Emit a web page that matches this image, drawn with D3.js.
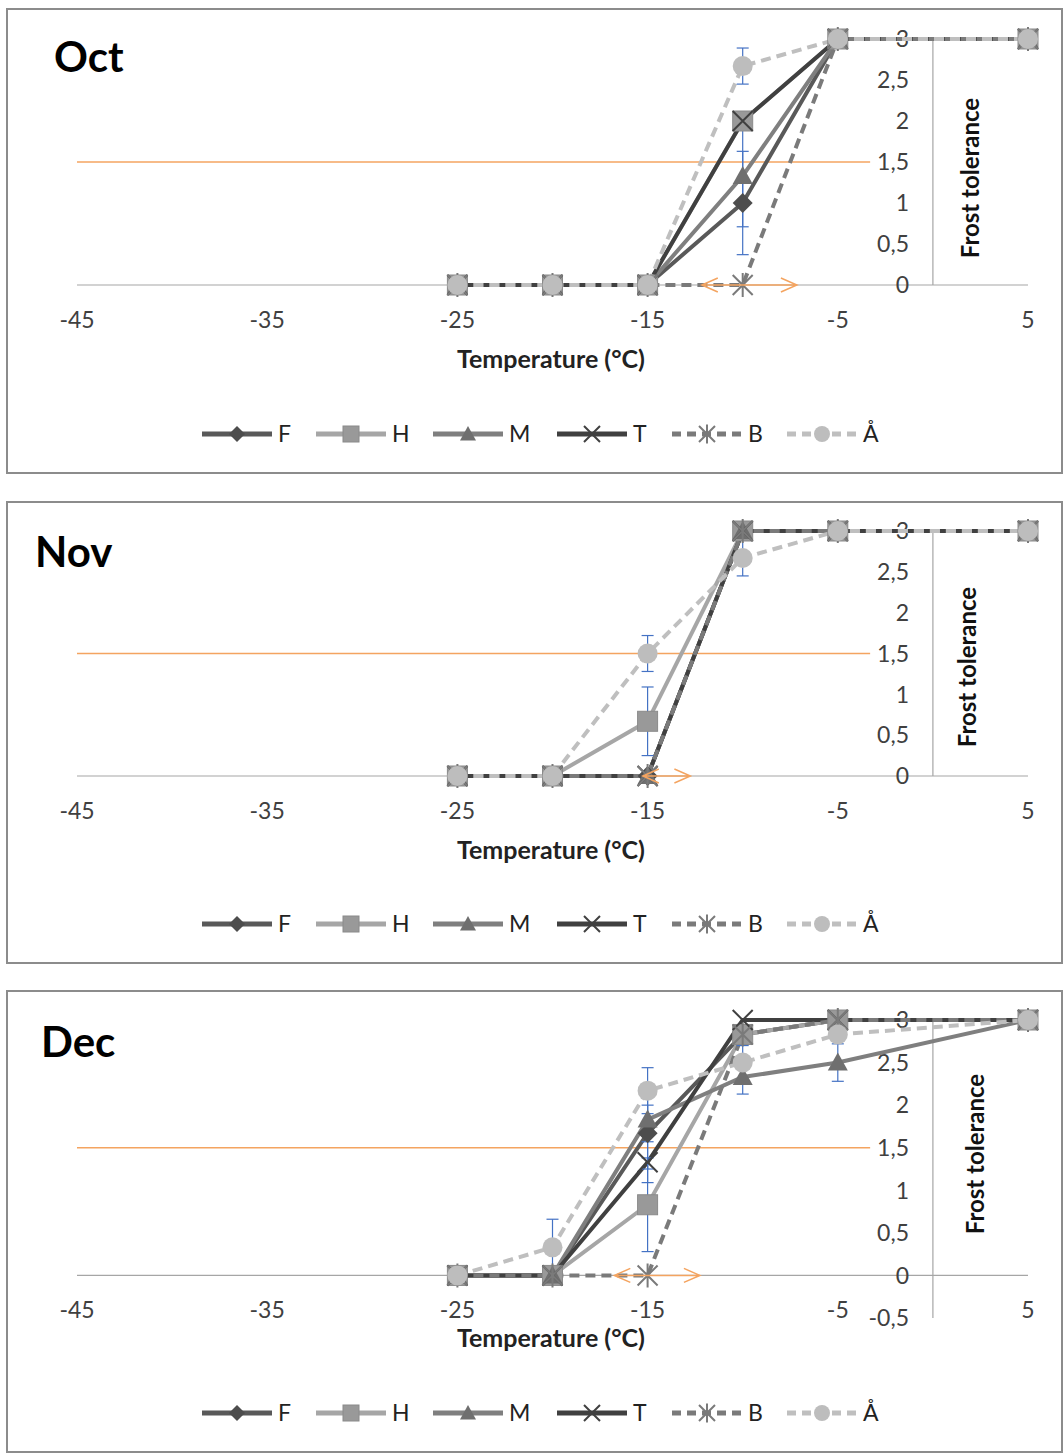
<!DOCTYPE html>
<html>
<head>
<meta charset="utf-8">
<script src="https://cdn.jsdelivr.net/npm/d3@7"></script>
<style>
  body { margin: 0; background: #fff; }
  text { font-family: Lato, 'Open Sans', sans-serif; }
</style>
</head>
<body>
<svg id="chart" width="1064" height="1455"></svg>
<script>
// temperatures tested, series and tick labels
const temps = [-25, -20, -15, -10, -5, 5]
const seriesNames = ['F', 'H', 'M', 'T', 'B', 'Å']
const xTicks = [-45, -35, -25, -15, -5, 5]
const thresholdLevel = 1.5
const thresholdRange = [-45, -3.3]

// frost tolerance per series (rows: F, H, M, T, B, Å)
const octValues = [
  [0, 0, 0, 1, 3, 3],
  [0, 0, 0, 2, 3, 3],
  [0, 0, 0, 1.33, 3, 3],
  [0, 0, 0, 2, 3, 3],
  [0, 0, 0, 0, 3, 3],
  [0, 0, 0, 2.67, 3, 3]
]
const novValues = [
  [0, 0, 0, 3, 3, 3],
  [0, 0, 0.67, 3, 3, 3],
  [0, 0, 0, 3, 3, 3],
  [0, 0, 0, 3, 3, 3],
  [0, 0, 0, 3, 3, 3],
  [0, 0, 1.5, 2.67, 3, 3]
]
const decValues = [
  [0, 0, 1.67, 2.83, 3, 3],
  [0, 0, 0.83, 2.83, 3, 3],
  [0, 0, 1.83, 2.33, 2.5, 3],
  [0, 0, 1.33, 3, 3, 3],
  [0, 0, 0, 2.83, 3, 3],
  [0, 0.33, 2.17, 2.5, 2.83, 3]
]

// error bar half-widths (0 = none)
const octErrors = [
  [0, 0, 0, 0.63, 0, 0],
  [0, 0, 0, 0, 0, 0],
  [0, 0, 0, 0.62, 0, 0],
  [0, 0, 0, 0, 0, 0],
  [0, 0, 0, 0, 0, 0],
  [0, 0, 0, 0.22, 0, 0]
]
const novErrors = [
  [0, 0, 0, 0, 0, 0],
  [0, 0, 0.42, 0, 0, 0],
  [0, 0, 0, 0, 0, 0],
  [0, 0, 0, 0, 0, 0],
  [0, 0, 0, 0, 0, 0],
  [0, 0, 0.22, 0.22, 0, 0]
]
const decErrors = [
  [0, 0, 0.42, 0, 0, 0],
  [0, 0, 0.55, 0, 0, 0],
  [0, 0, 0.17, 0.2, 0.22, 0],
  [0, 0, 0.24, 0, 0, 0],
  [0, 0, 0, 0, 0, 0],
  [0, 0.33, 0.27, 0.2, 0, 0]
]

// horizontal orange double arrows at y = 0
const octArrow = [-12.15, -7.15]
const novArrow = [-15.25, -12.75]
const decArrow = [-16.75, -12.25]

const styles = [
  { color: '#595959', marker: '#4d4d4d', dash: null, shape: 'diamond' },
  { color: '#a6a6a6', marker: '#999999', dash: null, shape: 'square' },
  { color: '#7f7f7f', marker: '#6f6f6f', dash: null, shape: 'triangle' },
  { color: '#404040', marker: '#404040', dash: null, shape: 'x' },
  { color: '#7a7a7a', marker: '#7a7a7a', dash: '10,6', shape: 'star' },
  { color: '#bfbfbf', marker: '#bdbdbd', dash: '10,6', shape: 'circle' }
]

const panels = [
  { title: 'Oct', values: octValues, errors: octErrors, arrow: octArrow, top: 9, bottom: 473,
    yDomain: [0, 3], yRange: [285, 39], titleX: 54, titleY: 72, xTitleY: 368, legendY: 434, frostX: 970, frostY: 178 },
  { title: 'Nov', values: novValues, errors: novErrors, arrow: novArrow, top: 502, bottom: 963,
    yDomain: [0, 3], yRange: [776, 531], titleX: 35, titleY: 567, xTitleY: 859, legendY: 924, frostX: 967, frostY: 667 },
  { title: 'Dec', values: decValues, errors: decErrors, arrow: decArrow, top: 991, bottom: 1452,
    yDomain: [-0.5, 3], yRange: [1318, 1020], titleX: 41, titleY: 1057, xTitleY: 1347, legendY: 1413, frostX: 975, frostY: 1154 }
]

const svg = d3.select('#chart')
const x = d3.scaleLinear().domain([-45, 5]).range([77, 1028])
const fmt = (v) => String(v).replace('.', ',')

function drawMarker(g, shape, cx, cy, color, s) {
  if (shape === 'diamond') {
    g.append('path').attr('d', `M${cx},${cy - s}L${cx + s},${cy}L${cx},${cy + s}L${cx - s},${cy}Z`).attr('fill', color)
  } else if (shape === 'square') {
    g.append('rect').attr('x', cx - s).attr('y', cy - s).attr('width', 2 * s).attr('height', 2 * s)
      .attr('fill', color).attr('stroke', '#8a8a8a').attr('stroke-width', 1)
  } else if (shape === 'triangle') {
    g.append('path').attr('d', `M${cx},${cy - s}L${cx + s},${cy + s * 0.8}L${cx - s},${cy + s * 0.8}Z`).attr('fill', color)
  } else if (shape === 'x') {
    g.append('path').attr('d', `M${cx - s},${cy - s}L${cx + s},${cy + s}M${cx - s},${cy + s}L${cx + s},${cy - s}`)
      .attr('stroke', color).attr('stroke-width', 2).attr('fill', 'none')
  } else if (shape === 'star') {
    g.append('path').attr('d', `M${cx - s},${cy - s}L${cx + s},${cy + s}M${cx - s},${cy + s}L${cx + s},${cy - s}M${cx},${cy - s * 1.2}L${cx},${cy + s * 1.2}`)
      .attr('stroke', color).attr('stroke-width', 2).attr('fill', 'none')
  } else {
    g.append('circle').attr('cx', cx).attr('cy', cy).attr('r', s).attr('fill', color)
  }
}

panels.forEach((p) => {
  const y = d3.scaleLinear().domain(p.yDomain).range(p.yRange)
  const g = svg.append('g')

  g.append('rect')
    .attr('x', 7).attr('y', p.top)
    .attr('width', 1055).attr('height', p.bottom - p.top)
    .attr('fill', '#fff').attr('stroke', '#8c8c8c').attr('stroke-width', 2)

  // axes
  g.append('line')
    .attr('x1', x(-45)).attr('x2', x(5)).attr('y1', y(0)).attr('y2', y(0))
    .attr('stroke', '#a6a6a6').attr('stroke-width', 1.2)
  g.append('line')
    .attr('x1', x(0)).attr('x2', x(0)).attr('y1', y(3)).attr('y2', y(p.yDomain[0]))
    .attr('stroke', '#a6a6a6').attr('stroke-width', 1.2)

  g.selectAll('.xt').data(xTicks).enter().append('text')
    .attr('x', (d) => x(d)).attr('y', y(0) + 43)
    .attr('text-anchor', 'middle').attr('font-size', 23).attr('fill', '#404040')
    .text((d) => d)

  const yTicks = d3.range(p.yDomain[0], 3.01, 0.5)
  g.selectAll('.yt').data(yTicks).enter().append('text')
    .attr('x', 909).attr('y', (d) => y(d)).attr('dy', '0.36em')
    .attr('text-anchor', 'end').attr('font-size', 23).attr('fill', '#404040')
    .text((d) => fmt(Math.round(d * 10) / 10))

  g.append('text')
    .attr('x', 551).attr('y', p.xTitleY)
    .attr('text-anchor', 'middle').attr('font-size', 25).attr('font-weight', 'bold').attr('fill', '#222')
    .text('Temperature (°C)')

  g.append('text')
    .attr('transform', `translate(${p.frostX},${p.frostY}) rotate(-90)`)
    .attr('text-anchor', 'middle').attr('dy', '0.36em')
    .attr('font-size', 24).attr('font-weight', 'bold').attr('fill', '#111')
    .text('Frost tolerance')

  g.append('text')
    .attr('x', p.titleX).attr('y', p.titleY)
    .attr('font-size', 42).attr('font-weight', 'bold').attr('fill', '#000')
    .text(p.title)

  // orange threshold line
  g.append('line')
    .attr('x1', x(thresholdRange[0])).attr('x2', x(thresholdRange[1]))
    .attr('y1', y(thresholdLevel)).attr('y2', y(thresholdLevel))
    .attr('stroke', '#f4a460').attr('stroke-width', 1.5)

  const line = d3.line().x((d, i) => x(temps[i])).y((d) => y(d))

  p.values.forEach((vals, si) => {
    g.append('path')
      .attr('d', line(vals))
      .attr('fill', 'none')
      .attr('stroke', styles[si].color)
      .attr('stroke-width', 4)
      .attr('stroke-dasharray', styles[si].dash)
  })

  // error bars
  p.values.forEach((vals, si) => {
    vals.forEach((v, i) => {
      const e = p.errors[si][i]
      if (!e) return
      const cx = x(temps[i])
      g.append('line').attr('x1', cx).attr('x2', cx).attr('y1', y(v - e)).attr('y2', y(v + e))
        .attr('stroke', '#4472c4').attr('stroke-width', 1.2)
      ;[v - e, v + e].forEach((c) => {
        g.append('line').attr('x1', cx - 6).attr('x2', cx + 6).attr('y1', y(c)).attr('y2', y(c))
          .attr('stroke', '#4472c4').attr('stroke-width', 1.2)
      })
    })
  })

  p.values.forEach((vals, si) => {
    vals.forEach((v, i) => {
      drawMarker(g, styles[si].shape, x(temps[i]), y(v), styles[si].marker, 10)
    })
  })

  // double arrow
  const ay = y(0)
  const ax1 = x(p.arrow[0])
  const ax2 = x(p.arrow[1])
  g.append('path')
    .attr('d', `M${ax1},${ay}L${ax2},${ay}M${ax1 + 16},${ay - 7}L${ax1},${ay}L${ax1 + 16},${ay + 7}M${ax2 - 16},${ay - 7}L${ax2},${ay}L${ax2 - 16},${ay + 7}`)
    .attr('fill', 'none').attr('stroke', '#f4a460').attr('stroke-width', 1.5)

  // legend
  const legendX = [202, 316, 433, 557, 672, 787]
  seriesNames.forEach((name, si) => {
    const lx = legendX[si]
    const ly = p.legendY
    g.append('line')
      .attr('x1', lx).attr('x2', lx + 70).attr('y1', ly).attr('y2', ly)
      .attr('stroke', styles[si].color).attr('stroke-width', 5)
      .attr('stroke-dasharray', styles[si].dash ? '9,6' : null)
    drawMarker(g, styles[si].shape, lx + 35, ly, styles[si].marker, 8)
    g.append('text')
      .attr('x', lx + 76).attr('y', ly).attr('dy', '0.36em')
      .attr('font-size', 23).attr('fill', '#222')
      .text(name)
  })
})
</script>
</body>
</html>
